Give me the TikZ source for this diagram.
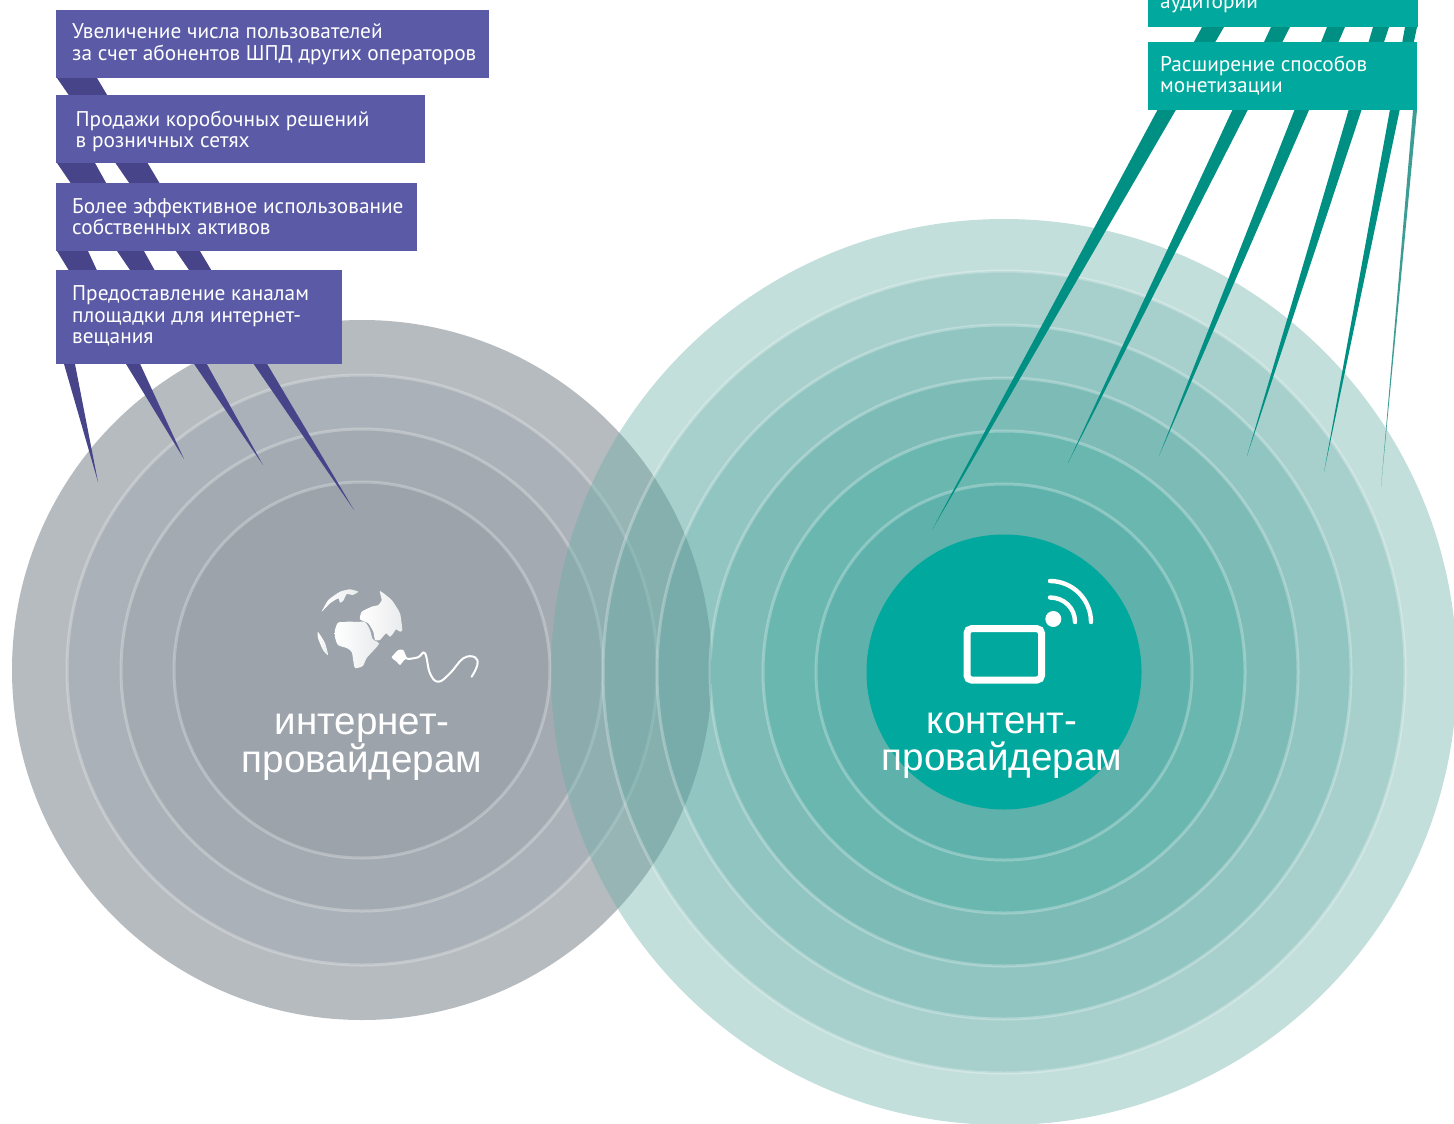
\documentclass[tikz,border=0pt]{standalone}
\usepackage{fontspec}
\setmainfont{PT Sans}
\newfontfamily\titlefont{Liberation Sans}
\definecolor{purplebox}{HTML}{5A5AA6}
\definecolor{purplespike}{HTML}{47448A}
\definecolor{tealbox}{RGB}{0,168,157}
\definecolor{tealspike}{RGB}{0,143,131}
\definecolor{tealthin}{RGB}{61,156,148}
\definecolor{lA}{HTML}{B6BBBF}
\definecolor{lB}{HTML}{ABB1B8}
\definecolor{lC}{HTML}{A4AAB2}
\definecolor{lD}{HTML}{9CA3AB}
\definecolor{rA}{RGB}{105,174,167}
\definecolor{rB}{RGB}{79,163,155}
\definecolor{rC}{RGB}{74,163,160}
\definecolor{rD}{RGB}{61,158,150}
\definecolor{rE}{RGB}{47,170,157}
\definecolor{rF}{RGB}{55,162,155}
\tikzset{
  ringline/.style={draw=white,draw opacity=.27,line width=3pt},
  lbox/.style={rectangle,fill=purplebox,text=white,anchor=north west,align=left,inner ysep=0pt,
    font=\fontsize{21.3}{21.5}\selectfont},
  tbox/.style={lbox,fill=tealbox},
  boxtext/.style={text=white,anchor=base west,align=left,inner sep=0pt,
    font=\fontsize{21.3}{21.5}\selectfont},
  titletext/.style={text=white,align=center,inner sep=0pt,
    font=\titlefont\fontsize{38.6}{36.5}\selectfont},
  globe/.style={left color=white,right color=white!78!lD,draw=none},
  pspike/.style={fill=purplespike,draw=none},
  tspike/.style={fill=tealspike,draw=none}
}
\begin{document}
\begin{tikzpicture}[x=1pt,y=-1pt]
\useasboundingbox (0,0) rectangle (1454,1124);
\coordinate (lc) at (362,670);
\coordinate (rc) at (1004,672);
% left discs
\fill[lA] (lc) circle[radius=350pt];
\path[fill=lB,ringline] (lc) circle[radius=295pt];
\path[fill=lC,ringline] (lc) circle[radius=241pt];
\path[fill=lD,ringline] (lc) circle[radius=188pt];
% right discs
\fill[rA,fill opacity=.40] (rc) circle[radius=453pt];
\path[fill=rB,fill opacity=.24,ringline] (rc) circle[radius=401pt];
\path[fill=rC,fill opacity=.23,ringline] (rc) circle[radius=347pt];
\path[fill=rD,fill opacity=.23,ringline] (rc) circle[radius=294pt];
\path[fill=rE,fill opacity=.23,ringline] (rc) circle[radius=241pt];
\path[fill=rF,fill opacity=.23,ringline] (rc) circle[radius=188pt];
\fill[tealbox] (rc) circle[radius=137.5pt];
% purple spikes
\coordinate (ptA) at (354,510);
\coordinate (ptB) at (263,465);
\coordinate (ptC) at (184,459);
\coordinate (ptD) at (98,482);
\fill[pspike] (57,78) -- (97,78) -- (ptA) -- cycle;
\fill[pspike] (57,163) -- (95,163) -- (ptB) -- cycle;
\fill[pspike] (57,251) -- (88,251) -- (ptC) -- cycle;
\fill[pspike] (64,364) -- (75,364) -- (ptD) -- cycle;
% teal spikes
\coordinate (ttA) at (932,530);
\coordinate (ttB) at (1068,463);
\coordinate (ttC) at (1159,456);
\coordinate (ttD) at (1247,456);
\coordinate (ttE) at (1324,472);
\coordinate (ttF) at (1381,487);
\fill[tspike] (1202,27) -- (1224,27) -- (ttA) -- cycle;
\fill[tspike] (1271,27) -- (1290,27) -- (ttB) -- cycle;
\fill[tspike] (1327,27) -- (1345,27) -- (ttC) -- cycle;
\fill[tspike] (1373,27) -- (1389,27) -- (ttD) -- cycle;
\fill[tspike] (1405,27) -- (1417,27) -- (ttE) -- cycle;
\fill[tealthin] (1413,110) -- (1417,110) -- (ttF) -- cycle;
% purple boxes
\node[lbox,inner xsep=0pt,minimum width=433pt,minimum height=68pt] (boxA) at (56,10) {};
\node[boxtext] (boxAtext) at (72,60) {Увеличение числа пользователей\\за счет абонентов ШПД других операторов};
\node[lbox,inner xsep=0pt,minimum width=369pt,minimum height=68pt] (boxB) at (56,95) {};
\node[boxtext] (boxBtext) at (75.5,147.5) {Продажи коробочных решений\\в розничных сетях};
\node[lbox,inner xsep=0pt,minimum width=361pt,minimum height=68pt] (boxC) at (56,183) {};
\node[boxtext] (boxCtext) at (72,234.5) {Более эффективное использование\\собственных активов};
\node[lbox,inner xsep=0pt,minimum width=286pt,minimum height=94pt] (boxD) at (56,270) {};
\node[boxtext] (boxDtext) at (72,343.5) {Предоставление каналам\\площадки для интернет-\\вещания};
% teal boxes
\fill[tealbox] (1148,-41) rectangle (1418,27);
\node[boxtext] (boxEtext) at (1160,9) {аудитории};
\node[tbox,inner xsep=0pt,minimum width=269pt,minimum height=68pt] (boxF) at (1148,42) {};
\node[boxtext] (boxFtext) at (1160,92.5) {Расширение способов\\монетизации};
% titles
\node[titletext] (titleL) at (362,747) {интернет-\\провайдерам};
\node[titletext] (titleR) at (1002,745.5) {контент-\\провайдерам};
% globe
\shade[globe] plot[smooth cycle,tension=.45] coordinates {(335,630) (338,622.7) (345,622) (348,621.5) (357,622) (365,622) (370,630) (372.7,639) (379,643.5) (373,651) (366.7,658) (362.7,666) (355,668) (353.5,662) (351.7,652) (346.7,648) (338,645) (335,637)};
\shade[globe] plot[smooth cycle,tension=.3] coordinates {(380,591) (391.7,600) (400,613.3) (402.3,630) (400,631.7) (396,629.3) (393.3,633.3) (390,636.7) (386,633.3) (380,640) (375,640) (373.3,631.7) (368.3,623.3) (360,619.3) (361.7,611.7) (371.7,606.7) (378.3,605) (381.7,600)};
\shade[globe] plot[smooth cycle,tension=.3] coordinates {(321.7,611.7) (328.3,600) (340,591.7) (350,589.3) (358.3,591.7) (352.7,595) (346.7,594) (343.3,600.7) (340,602.7) (338.3,598.3) (330,603.3)};
\shade[globe] plot[smooth cycle,tension=.4] coordinates {(318,632) (325,643) (328,655) (323,650) (318,638)};
% plug and cord
\fill[white] plot[smooth cycle,tension=.3] coordinates {(391.7,657.3) (398.3,650) (403.3,650) (406.7,657.3) (410,658.3) (410,660) (405,659.3) (400,665) (396.7,661.7)};
\draw[white,line width=2pt,line cap=round] plot[smooth,tension=.7] coordinates {(408,659) (418,657.3) (425,653.3) (430,673.3) (438.3,681.7) (450,673.3) (463.3,658.3) (475,657.3) (477.3,665) (471.7,676.7)};
% screen icon
\draw[white,line width=7pt,rounded corners=4.5pt] (967,628.7) rectangle (1041.5,680);
\fill[white] (1053.3,619) circle[radius=8pt];
\draw[white,line width=4.4pt,line cap=round] (1050,597.5) .. controls (1064,597.5) and (1075,608) .. (1075,622);
\draw[white,line width=4.4pt,line cap=round] (1050,581) .. controls (1072.6,581) and (1091,599.4) .. (1091,622);
\end{tikzpicture}
\end{document}
